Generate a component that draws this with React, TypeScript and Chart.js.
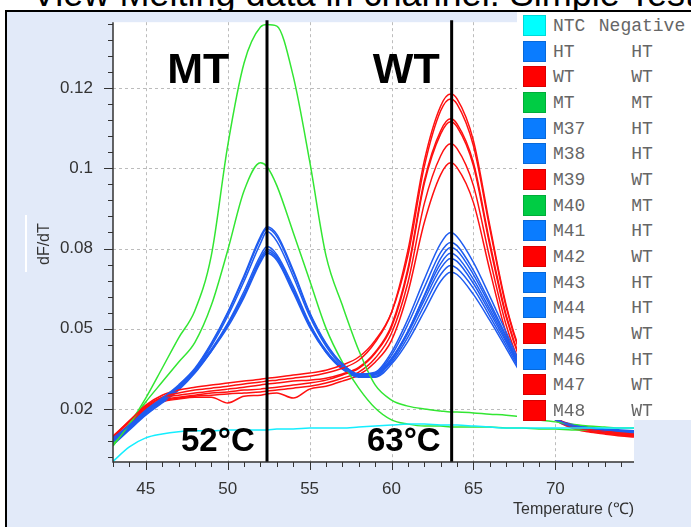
import React, { useEffect, useRef } from 'react';
import { Chart, registerables } from 'chart.js';

Chart.register(...registerables);

// ---------- data ----------
const temperatures = [43, 44, 45, 46, 47, 48, 49, 50, 51, 52, 52.4, 53, 54, 55, 56, 57, 58, 59, 60, 61, 62, 63, 63.6, 64, 65, 66, 67, 68, 69, 70, 71, 72, 73, 74, 74.8];

const ntc = [0.0037, 0.0082, 0.0110, 0.0122, 0.0129, 0.0132, 0.0132, 0.0135, 0.0135, 0.0135, 0.0135, 0.0138, 0.0138, 0.0141, 0.0141, 0.0141, 0.0144, 0.0147, 0.0150, 0.0153, 0.0153, 0.0150, 0.0150, 0.0150, 0.0147, 0.0144, 0.0141, 0.0141, 0.0141, 0.0141, 0.0141, 0.0141, 0.0141, 0.0141, 0.0141];
const ht = [0.0110, 0.0150, 0.0197, 0.0234, 0.0275, 0.0327, 0.0405, 0.0501, 0.0616, 0.0737, 0.0768, 0.0744, 0.0632, 0.0501, 0.0405, 0.0340, 0.0309, 0.0315, 0.0377, 0.0480, 0.0604, 0.0716, 0.0750, 0.0737, 0.0657, 0.0551, 0.0439, 0.0327, 0.0234, 0.0172, 0.0150, 0.0141, 0.0135, 0.0132, 0.0129];
const wt = [0.0116, 0.0163, 0.0209, 0.0237, 0.0250, 0.0259, 0.0265, 0.0271, 0.0278, 0.0284, 0.0287, 0.0290, 0.0296, 0.0302, 0.0312, 0.0327, 0.0352, 0.0408, 0.0501, 0.0694, 0.0973, 0.1144, 0.1181, 0.1166, 0.1036, 0.0771, 0.0523, 0.0358, 0.0243, 0.0175, 0.0150, 0.0138, 0.0132, 0.0125, 0.0122];
const mt = [0.0085, 0.0153, 0.0234, 0.0327, 0.0421, 0.0507, 0.0678, 0.1020, 0.1278, 0.1390, 0.1398, 0.1393, 0.1237, 0.0973, 0.0678, 0.0523, 0.0383, 0.0275, 0.0228, 0.0209, 0.0200, 0.0194, 0.0191, 0.0191, 0.0188, 0.0184, 0.0181, 0.0175, 0.0166, 0.0160, 0.0153, 0.0147, 0.0144, 0.0141, 0.0141];
const m37 = [0.0104, 0.0147, 0.0194, 0.0231, 0.0271, 0.0324, 0.0402, 0.0498, 0.0610, 0.0731, 0.0762, 0.0737, 0.0626, 0.0498, 0.0402, 0.0340, 0.0309, 0.0312, 0.0368, 0.0464, 0.0579, 0.0688, 0.0719, 0.0709, 0.0632, 0.0532, 0.0427, 0.0321, 0.0231, 0.0172, 0.0153, 0.0144, 0.0138, 0.0135, 0.0132];
const m38 = [0.0098, 0.0144, 0.0191, 0.0228, 0.0268, 0.0321, 0.0396, 0.0489, 0.0598, 0.0716, 0.0753, 0.0722, 0.0613, 0.0489, 0.0396, 0.0334, 0.0302, 0.0306, 0.0355, 0.0442, 0.0554, 0.0669, 0.0703, 0.0694, 0.0619, 0.0523, 0.0421, 0.0318, 0.0228, 0.0169, 0.0147, 0.0138, 0.0132, 0.0129, 0.0125];
const m39 = [0.0113, 0.0163, 0.0212, 0.0243, 0.0259, 0.0268, 0.0275, 0.0281, 0.0287, 0.0293, 0.0296, 0.0299, 0.0306, 0.0312, 0.0321, 0.0337, 0.0362, 0.0414, 0.0501, 0.0678, 0.0955, 0.1129, 0.1166, 0.1150, 0.1020, 0.0762, 0.0517, 0.0352, 0.0240, 0.0175, 0.0147, 0.0135, 0.0129, 0.0122, 0.0119];
const m40 = [0.0091, 0.0153, 0.0222, 0.0284, 0.0346, 0.0408, 0.0523, 0.0694, 0.0880, 0.0967, 0.0955, 0.0896, 0.0750, 0.0601, 0.0452, 0.0346, 0.0265, 0.0203, 0.0166, 0.0153, 0.0147, 0.0147, 0.0144, 0.0144, 0.0144, 0.0144, 0.0141, 0.0141, 0.0138, 0.0138, 0.0135, 0.0135, 0.0132, 0.0132, 0.0129];
const m41 = [0.0101, 0.0147, 0.0194, 0.0231, 0.0271, 0.0321, 0.0386, 0.0467, 0.0567, 0.0678, 0.0706, 0.0681, 0.0582, 0.0467, 0.0383, 0.0330, 0.0306, 0.0309, 0.0358, 0.0442, 0.0551, 0.0653, 0.0685, 0.0675, 0.0604, 0.0511, 0.0414, 0.0315, 0.0228, 0.0172, 0.0150, 0.0141, 0.0135, 0.0132, 0.0129];
const m42 = [0.0110, 0.0160, 0.0206, 0.0234, 0.0243, 0.0250, 0.0256, 0.0262, 0.0268, 0.0275, 0.0278, 0.0281, 0.0287, 0.0290, 0.0296, 0.0309, 0.0330, 0.0377, 0.0461, 0.0638, 0.0911, 0.1067, 0.1104, 0.1088, 0.0967, 0.0719, 0.0492, 0.0337, 0.0234, 0.0172, 0.0147, 0.0135, 0.0129, 0.0122, 0.0119];
const m43 = [0.0094, 0.0141, 0.0188, 0.0225, 0.0265, 0.0318, 0.0383, 0.0464, 0.0557, 0.0669, 0.0697, 0.0675, 0.0573, 0.0464, 0.0380, 0.0327, 0.0302, 0.0302, 0.0352, 0.0436, 0.0539, 0.0638, 0.0669, 0.0660, 0.0591, 0.0501, 0.0408, 0.0312, 0.0225, 0.0169, 0.0147, 0.0138, 0.0132, 0.0129, 0.0125];
const m44 = [0.0091, 0.0138, 0.0184, 0.0222, 0.0262, 0.0315, 0.0380, 0.0461, 0.0554, 0.0663, 0.0691, 0.0669, 0.0570, 0.0461, 0.0377, 0.0327, 0.0306, 0.0309, 0.0346, 0.0424, 0.0523, 0.0619, 0.0647, 0.0638, 0.0576, 0.0489, 0.0399, 0.0306, 0.0225, 0.0169, 0.0147, 0.0138, 0.0132, 0.0125, 0.0122];
const m45 = [0.0104, 0.0153, 0.0203, 0.0228, 0.0237, 0.0243, 0.0250, 0.0253, 0.0259, 0.0262, 0.0265, 0.0268, 0.0275, 0.0281, 0.0290, 0.0306, 0.0327, 0.0374, 0.0455, 0.0629, 0.0902, 0.1057, 0.1095, 0.1079, 0.0958, 0.0709, 0.0486, 0.0334, 0.0231, 0.0169, 0.0144, 0.0132, 0.0125, 0.0119, 0.0116];
const m46 = [0.0088, 0.0135, 0.0181, 0.0219, 0.0259, 0.0312, 0.0380, 0.0455, 0.0548, 0.0657, 0.0685, 0.0663, 0.0563, 0.0455, 0.0377, 0.0324, 0.0299, 0.0299, 0.0340, 0.0411, 0.0504, 0.0598, 0.0626, 0.0619, 0.0557, 0.0476, 0.0389, 0.0302, 0.0222, 0.0166, 0.0144, 0.0135, 0.0129, 0.0125, 0.0122];
const m47 = [0.0101, 0.0150, 0.0200, 0.0225, 0.0234, 0.0240, 0.0243, 0.0247, 0.0250, 0.0253, 0.0256, 0.0259, 0.0265, 0.0271, 0.0281, 0.0296, 0.0315, 0.0358, 0.0436, 0.0594, 0.0840, 0.0989, 0.1026, 0.1011, 0.0896, 0.0669, 0.0461, 0.0321, 0.0225, 0.0169, 0.0144, 0.0132, 0.0125, 0.0119, 0.0116];
const m48 = [0.0094, 0.0147, 0.0197, 0.0222, 0.0231, 0.0237, 0.0237, 0.0219, 0.0240, 0.0243, 0.0247, 0.0250, 0.0234, 0.0262, 0.0271, 0.0287, 0.0306, 0.0346, 0.0414, 0.0563, 0.0781, 0.0930, 0.0967, 0.0952, 0.0843, 0.0632, 0.0436, 0.0309, 0.0219, 0.0166, 0.0141, 0.0129, 0.0122, 0.0116, 0.0113];

const sampleNames = ['NTC', 'HT', 'WT', 'MT', 'M37', 'M38', 'M39', 'M40', 'M41', 'M42', 'M43', 'M44', 'M45', 'M46', 'M47', 'M48'];
const sampleCalls = ['Negative', 'HT', 'WT', 'MT', 'HT', 'HT', 'WT', 'MT', 'HT', 'WT', 'HT', 'HT', 'WT', 'HT', 'WT', 'WT'];
const sampleValues = [ntc, ht, wt, mt, m37, m38, m39, m40, m41, m42, m43, m44, m45, m46, m47, m48];

const yTickValues = [0.02, 0.045, 0.07, 0.095, 0.12];
const yTickLabels = ['0.02', '0.05', '0.08', '0.1', '0.12'];
const xTickValues = [45, 50, 55, 60, 65, 70];
const xTickLabels = ['45', '50', '55', '60', '65', '70'];

const peakTemps = [52.4, 63.67];
const noteTexts = ['MT', 'WT', '52°C', '63°C'];
const noteTemps = [48.2, 60.9, 49.4, 60.75];
const noteValues = [0.1252, 0.1252, 0.0097, 0.0097];

// ---------- styles ----------
const SANS = '"Liberation Sans", Arial, Helvetica, sans-serif';
const MONO = '"Courier New", "Liberation Mono", monospace';
const lineColors: Record<string, string> = { NTC: '#14eeff', HT: '#1f5cf0', WT: '#ff1010', MT: '#33e633' };
const legendColors: Record<string, string> = { NTC: '#00ffff', HT: '#0a7cff', WT: '#ff0000', MT: '#00cc44' };
const groupOf = (i: number) => (i === 0 ? 'NTC' : sampleCalls[i]);

const decorPlugin = {
  id: 'decor',
  beforeDatasetsDraw(chart: any) {
    const { ctx, chartArea: a, scales } = chart;
    const x = scales.x;
    const y = scales.y;
    ctx.save();
    ctx.fillStyle = '#ffffff';
    ctx.fillRect(a.left, a.top, a.right - a.left, a.bottom - a.top);
    ctx.strokeStyle = '#bcbcbc';
    ctx.lineWidth = 1;
    ctx.setLineDash([3, 3]);
    ctx.beginPath();
    for (const v of xTickValues) {
      const px = Math.round(x.getPixelForValue(v)) + 0.5;
      ctx.moveTo(px, a.top);
      ctx.lineTo(px, a.bottom);
    }
    for (const v of yTickValues) {
      const py = Math.round(y.getPixelForValue(v)) + 0.5;
      ctx.moveTo(a.left, py);
      ctx.lineTo(a.right, py);
    }
    ctx.stroke();
    ctx.restore();
  },
  afterDatasetsDraw(chart: any) {
    const { ctx, chartArea: a, scales } = chart;
    const x = scales.x;
    const y = scales.y;
    ctx.save();
    // peak marker lines
    ctx.strokeStyle = '#000';
    ctx.lineWidth = 3;
    for (const t of peakTemps) {
      const px = x.getPixelForValue(t);
      ctx.beginPath();
      ctx.moveTo(px, a.top - 2);
      ctx.lineTo(px, a.bottom);
      ctx.stroke();
    }
    // annotations
    ctx.fillStyle = '#000';
    ctx.textAlign = 'center';
    ctx.textBaseline = 'middle';
    noteTexts.forEach((txt, i) => {
      ctx.font = `bold ${i < 2 ? 43 : 33}px ${SANS}`;
      ctx.fillText(txt, x.getPixelForValue(noteTemps[i]), y.getPixelForValue(noteValues[i]));
    });
    // axis lines
    ctx.strokeStyle = '#333';
    ctx.lineWidth = 1.5;
    ctx.beginPath();
    ctx.moveTo(a.left, a.top);
    ctx.lineTo(a.left, a.bottom);
    ctx.lineTo(a.right, a.bottom);
    ctx.stroke();
    // tick marks
    ctx.lineWidth = 1;
    ctx.beginPath();
    const yStep = (yTickValues[1] - yTickValues[0]) / 5;
    for (let k = -40; k <= 60; k++) {
      const v = yTickValues[0] + k * yStep;
      if (v < y.min - 1e-9 || v > y.max + 1e-9) continue;
      const py = Math.round(y.getPixelForValue(v)) + 0.5;
      const len = k % 5 === 0 ? 9 : 5;
      ctx.moveTo(a.left - len, py);
      ctx.lineTo(a.left, py);
    }
    const xStep = (xTickValues[1] - xTickValues[0]) / 5;
    for (let k = -40; k <= 60; k++) {
      const v = xTickValues[0] + k * xStep;
      if (v < x.min - 1e-9 || v > x.max + 1e-9) continue;
      const px = Math.round(x.getPixelForValue(v)) + 0.5;
      const len = k % 5 === 0 ? 8 : 5;
      ctx.moveTo(px, a.bottom);
      ctx.lineTo(px, a.bottom + len);
    }
    ctx.stroke();
    // axis titles
    ctx.fillStyle = '#333';
    ctx.font = `16px ${SANS}`;
    ctx.save();
    ctx.translate(45, (a.top + a.bottom) / 2 + 2);
    ctx.rotate(-Math.PI / 2);
    ctx.textAlign = 'center';
    ctx.textBaseline = 'middle';
    ctx.fillText('dF/dT', 0, 0);
    ctx.restore();
    ctx.textAlign = 'right';
    ctx.textBaseline = 'middle';
    ctx.fillText('Temperature (℃)', a.right, 510);
    ctx.restore();
  },
};

export default function App() {
  const canvasRef = useRef<HTMLCanvasElement>(null);

  useEffect(() => {
    const canvas = canvasRef.current;
    if (!canvas) return;
    const datasets = sampleNames.map((name, i) => ({
      label: name,
      data: temperatures.map((t, k) => ({ x: t, y: sampleValues[i][k] })),
      borderColor: lineColors[groupOf(i)],
      backgroundColor: lineColors[groupOf(i)],
      borderWidth: 1.5,
      pointRadius: 0,
      fill: false,
      cubicInterpolationMode: 'monotone' as const,
    }));
    const chart = new Chart(canvas, {
      type: 'line',
      data: { datasets },
      options: {
        animation: false,
        responsive: false,
        devicePixelRatio: 1,
        events: [],
        layout: { padding: { top: 22, right: 57, bottom: 0, left: 0 } },
        plugins: { legend: { display: false }, tooltip: { enabled: false }, title: { display: false } },
        scales: {
          x: {
            type: 'linear',
            min: 43,
            max: 74.8,
            afterBuildTicks: (s: any) => {
              s.ticks = xTickValues.map((v) => ({ value: v }));
            },
            afterFit: (s: any) => {
              s.height = 65;
            },
            ticks: {
              callback: (_v: any, i: number) => xTickLabels[i],
              font: { family: SANS, size: 17 },
              color: '#333',
              padding: 9,
              maxRotation: 0,
              autoSkip: false,
            },
            grid: { display: false },
            border: { display: false },
          },
          y: {
            type: 'linear',
            min: 0.0035,
            max: 0.1405,
            afterBuildTicks: (s: any) => {
              s.ticks = yTickValues.map((v) => ({ value: v }));
            },
            afterFit: (s: any) => {
              s.width = 113;
            },
            ticks: {
              callback: (_v: any, i: number) => yTickLabels[i],
              font: { family: SANS, size: 17 },
              color: '#333',
              padding: 12,
              autoSkip: false,
            },
            grid: { display: false },
            border: { display: false },
          },
        },
      },
      plugins: [decorPlugin],
    });
    return () => chart.destroy();
  }, []);

  return (
    <div style={{ position: 'fixed', left: 0, top: 0, width: 691, height: 527, background: '#fff', overflow: 'hidden' }}>
      <div
        style={{
          position: 'absolute',
          left: 32,
          top: -24,
          font: `36px ${SANS}`,
          lineHeight: '36px',
          whiteSpace: 'nowrap',
          color: '#000',
        }}
      >
        View Melting data in channel: Simple Test
      </div>
      <div
        style={{
          position: 'absolute',
          left: 5,
          top: 10,
          width: 686,
          height: 517,
          boxSizing: 'border-box',
          background: '#e2eaf9',
          borderLeft: '2px solid #000',
          borderTop: '2px solid #000',
        }}
      />
      <div style={{ position: 'absolute', left: 25, top: 215, width: 2, height: 57, background: '#fff' }} />
      <canvas ref={canvasRef} width={691} height={527} style={{ position: 'absolute', left: 0, top: 0, width: 691, height: 527 }} />
      <div style={{ position: 'absolute', left: 517, top: 12, width: 174, height: 408, background: '#fff' }}>
        {sampleNames.map((name, i) => (
          <div key={name} style={{ position: 'absolute', left: 0, top: 3 + i * 25.67, width: 174, height: 22 }}>
            <div
              style={{
                position: 'absolute',
                left: 6,
                top: 0,
                width: 23,
                height: 21,
                background: legendColors[groupOf(i)],
                boxShadow: 'inset 0 0 0 1px rgba(0,0,0,0.15)',
              }}
            />
            <span style={{ position: 'absolute', left: 36, top: 0, font: `18px ${MONO}`, lineHeight: '22px', color: '#666', whiteSpace: 'nowrap' }}>
              {name}
            </span>
            <span
              style={{
                position: 'absolute',
                left: 125,
                top: 0,
                transform: 'translateX(-50%)',
                font: `18px ${MONO}`,
                lineHeight: '22px',
                color: '#666',
                whiteSpace: 'nowrap',
              }}
            >
              {sampleCalls[i]}
            </span>
          </div>
        ))}
      </div>
    </div>
  );
}
